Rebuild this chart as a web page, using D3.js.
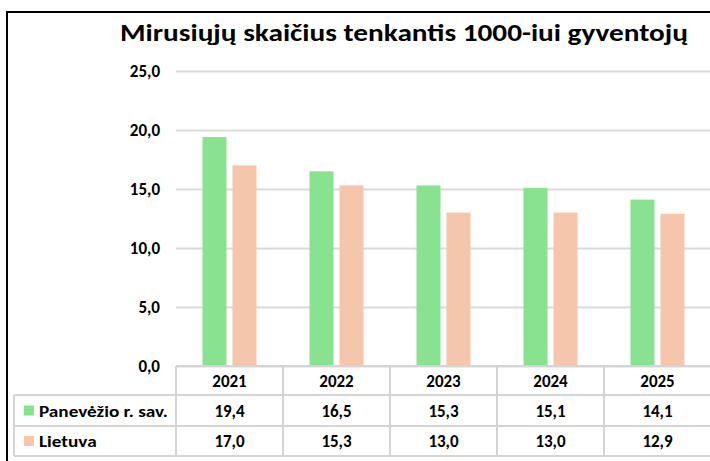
<!DOCTYPE html>
<html>
<head>
<meta charset="utf-8">
<script src="https://cdn.jsdelivr.net/npm/d3@7"></script>
<style>
  html, body { margin: 0; padding: 0; background: #fff; }
  svg { display: block; font-family: Carlito, Lato, "Open Sans", sans-serif; }
</style>
</head>
<body>
<svg id="chart" width="710" height="461"></svg>
<script>
let years = ['2021', '2022', '2023', '2024', '2025'];
let seriesNames = ['Panevėžio r. sav.', 'Lietuva'];
let panevezys = [19.4, 16.5, 15.3, 15.1, 14.1];
let lietuva = [17.0, 15.3, 13.0, 13.0, 12.9];
let yTicks = [0, 5, 10, 15, 20, 25];
let titleText = 'Mirusiųjų skaičius tenkantis 1000-iui gyventojų';
let colors = ['#88e28f', '#f5c6ab'];

let svg = d3.select('#chart');
let fmt = v => d3.format('.1f')(v).replace('.', ',');
let gridColor = '#d9d9d9';
let tableColor = '#d4d4d4';

// widen text a bit, the original font runs wider than Lato
function stretch(sel, k) {
    sel.each(function() {
        let w = this.getComputedTextLength();
        d3.select(this).attr('textLength', w * k).attr('lengthAdjust', 'spacingAndGlyphs');
    });
}

// outer frame (cut off on the right and bottom)
svg.append('rect')
    .attr('x', 7).attr('y', 12)
    .attr('width', 760).attr('height', 500)
    .attr('fill', 'none')
    .attr('stroke', 'black')
    .attr('stroke-width', 2);

svg.append('text')
    .attr('x', 404).attr('y', 41)
    .attr('text-anchor', 'middle')
    .attr('font-weight', 'bold')
    .attr('font-size', 25)
    .attr('fill', '#000')
    .text(titleText)
    .call(stretch, 1.17);

let x = d3.scaleBand().domain(years).range([176, 711]);
let y = d3.scaleLinear().domain([0, 25]).range([366, 71]);
let inner = d3.scaleBand().domain(seriesNames)
    .range([x.bandwidth() / 2 - 27, x.bandwidth() / 2 + 27])
    .paddingInner(0.2);

// y gridlines + labels
let yAxis = svg.append('g')
    .attr('transform', 'translate(176,0)')
    .call(d3.axisLeft(y).tickValues(yTicks).tickFormat(fmt).tickSize(-540).tickPadding(16));
yAxis.select('.domain').remove();
yAxis.selectAll('.tick line').attr('stroke', gridColor).attr('stroke-width', 2);
yAxis.selectAll('.tick text')
    .attr('font-family', 'Carlito, Lato, "Open Sans", sans-serif')
    .attr('font-size', 17).attr('font-weight', 'bold').attr('fill', '#000');

// bars
let seriesData = [panevezys, lietuva];
seriesData.forEach((vals, si) => {
    svg.append('g').selectAll('rect')
        .data(vals)
        .enter()
        .append('rect')
        .attr('x', (d, i) => x(years[i]) + inner(seriesNames[si]))
        .attr('y', d => y(d))
        .attr('width', inner.bandwidth())
        .attr('height', d => y(0) - y(d))
        .attr('fill', colors[si]);
});

// data table
let rowTop = [366, 395, 426, 456];
let table = svg.append('g');
let lineAttr = sel => sel.attr('stroke', tableColor).attr('stroke-width', 2).attr('fill', 'none');

// horizontal lines
table.append('line').attr('x1', 176).attr('x2', 711).attr('y1', rowTop[0]).attr('y2', rowTop[0]).call(lineAttr);
rowTop.slice(1).forEach(ry => {
    table.append('line').attr('x1', 14).attr('x2', 711).attr('y1', ry).attr('y2', ry).call(lineAttr);
});
// vertical lines
table.append('line').attr('x1', 14).attr('x2', 14).attr('y1', rowTop[1]).attr('y2', rowTop[3]).call(lineAttr);
years.forEach(yr => {
    table.append('line').attr('x1', x(yr)).attr('x2', x(yr)).attr('y1', rowTop[0]).attr('y2', rowTop[3]).call(lineAttr);
});

// header years
table.selectAll('text.year')
    .data(years)
    .enter()
    .append('text')
    .attr('class', 'year')
    .attr('x', d => x(d) + x.bandwidth() / 2)
    .attr('y', (rowTop[0] + rowTop[1]) / 2 + 6)
    .attr('text-anchor', 'middle')
    .attr('font-size', 17).attr('font-weight', 'bold')
    .text(d => d);

// series rows
seriesData.forEach((vals, si) => {
    let mid = (rowTop[si + 1] + rowTop[si + 2]) / 2;
    table.append('rect')
        .attr('x', 24).attr('y', mid - 5)
        .attr('width', 10).attr('height', 10)
        .attr('fill', colors[si]);
    table.append('text')
        .attr('x', 39).attr('y', mid + 6)
        .attr('font-size', 16).attr('font-weight', 'bold')
        .text(seriesNames[si])
        .call(stretch, 1.2);
    table.append('g').selectAll('text')
        .data(vals)
        .enter()
        .append('text')
        .attr('x', (d, i) => x(years[i]) + x.bandwidth() / 2)
        .attr('y', mid + 6)
        .attr('text-anchor', 'middle')
        .attr('font-size', 17).attr('font-weight', 'bold')
        .text(d => fmt(d));
});
</script>
</body>
</html>
